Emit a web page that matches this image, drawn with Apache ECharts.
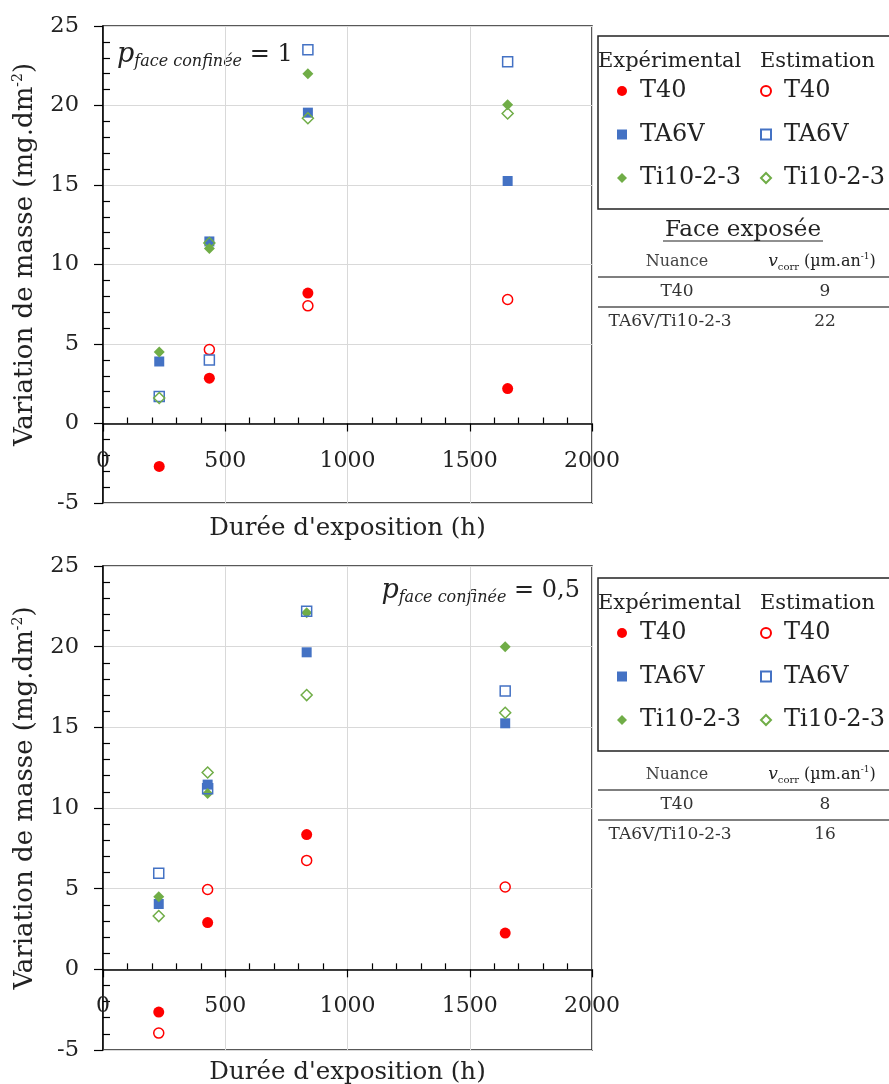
<!DOCTYPE html>
<html><head><meta charset="utf-8">
<script src="https://cdn.jsdelivr.net/npm/echarts@6/dist/echarts.min.js"></script>
<style>html,body{margin:0;padding:0;background:#fff}#c{width:889px;height:1084px}</style>
</head><body><div id="c"></div>
<script>
// ---- data ----
const hoursTop    = [230, 435, 838, 1655];
const hoursBottom = [228, 428, 833, 1645];
// p_face confinée = 1
const t40ExpTop  = [-2.7, 2.85, 8.2, 2.2];
const t40EstTop  = [null, 4.65, 7.4, 7.8];
const ta6vExpTop = [3.9, 11.45, 19.55, 15.25];
const ta6vEstTop = [1.7, 4.0, 23.5, 22.75];
const tiExpTop   = [4.5, 11.0, 22.0, 20.05];
const tiEstTop   = [1.6, 11.35, 19.2, 19.5];
// p_face confinée = 0,5
const t40ExpBot  = [-2.65, 2.9, 8.35, 2.25];
const t40EstBot  = [-3.95, 4.95, 6.75, 5.1];
const ta6vExpBot = [4.05, 11.45, 19.65, 15.25];
const ta6vEstBot = [5.95, 11.2, 22.2, 17.25];
const tiExpBot   = [4.5, 10.9, 22.1, 20.0];
const tiEstBot   = [3.3, 12.2, 17.0, 15.9];
const nuances    = ['T40', 'TA6V', 'Ti10-2-3'];
const tableRows  = ['T40', 'TA6V/Ti10-2-3'];
const vcorrTop   = [9, 22];
const vcorrBot   = [8, 16];

const FF = 'DejaVu Serif';
const RED = '#ff0000', BLUE = '#4472c4', GREEN = '#70ad47';
const EST = ' (est.)';

function pts(xs, ys) { return xs.map((x, i) => ys[i] == null ? null : [x, ys[i]]).filter(Boolean); }

function seriesFor(g, xs, d) {
  const mk = (name, data, symbol, size, color, hollow) => ({
    type: 'scatter', name, xAxisIndex: g, yAxisIndex: g, data: pts(xs, data),
    symbol, symbolSize: size,
    itemStyle: hollow ? { color: 'rgba(255,255,255,0)', borderColor: color, borderWidth: 1.5, opacity: 1 }
                      : { color, opacity: 1 },
    emphasis: { disabled: true }
  });
  return [
    mk('T40', d[0], 'circle', 11, RED, false),
    mk('TA6V', d[2], 'rect', 10, BLUE, false),
    mk('Ti10-2-3', d[4], 'diamond', 11, GREEN, false),
    mk('T40' + EST, d[1], 'circle', 10, RED, true),
    mk('TA6V' + EST, d[3], 'rect', 10, BLUE, true),
    mk('Ti10-2-3' + EST, d[5], 'diamond', 11, GREEN, true)
  ];
}

const grids = [
  { left: 103, top: 26, width: 489, height: 477 },
  { left: 103, top: 566, width: 489, height: 484 }
];

function xAx(g, labelMargin, nameGap) {
  return {
    gridIndex: g, type: 'value', min: 0, max: 2000, interval: 500,
    axisLine: { onZero: true, lineStyle: { color: '#000', width: 1.5 } },
    axisTick: { show: true, length: 8, inside: false, lineStyle: { color: '#000', width: 1.2 } },
    minorTick: { show: true, splitNumber: 5, length: -6, lineStyle: { color: '#000', width: 1.2 } },
    axisLabel: { fontFamily: FF, fontSize: 22, color: '#222', margin: labelMargin, formatter: v => String(v) },
    splitLine: { show: true, lineStyle: { color: '#d9d9d9', width: 1 } },
    name: "Durée d'exposition (h)", nameLocation: 'middle', nameGap,
    nameTextStyle: { fontFamily: FF, fontSize: 24.5, color: '#222' }
  };
}
function yAx(g) {
  return {
    gridIndex: g, type: 'value', min: -5, max: 25, interval: 5,
    axisLine: { show: true, onZero: false, lineStyle: { color: '#000', width: 1.5 } },
    axisTick: { show: true, length: 9, inside: false, lineStyle: { color: '#000', width: 1.2 } },
    minorTick: { show: true, splitNumber: 5, length: -7, lineStyle: { color: '#000', width: 1.2 } },
    axisLabel: { fontFamily: FF, fontSize: 22.5, color: '#222', margin: 24, formatter: v => String(v) },
    splitLine: { show: true, lineStyle: { color: '#d9d9d9', width: 1 } },
    name: 'Variation de masse (mg.dm{sup|-2})', nameLocation: 'middle', nameGap: 64,
    nameTextStyle: { fontFamily: FF, fontSize: 26, color: '#222', padding: [0, 0, 0, 20],
      rich: { sup: { fontFamily: FF, fontSize: 14, color: '#222', verticalAlign: 'top', lineHeight: 28 } } }
  };
}

function legendCol(left, top, est) {
  return {
    orient: 'vertical', left, top, padding: 0, itemWidth: 10, itemHeight: 10, itemGap: 13.5,
    selectedMode: false,
    data: nuances.map(n => est ? n + EST : n),
    formatter: n => n.replace(EST, ''),
    textStyle: { fontFamily: FF, fontSize: 24, color: '#222', lineHeight: 30, padding: [0, 0, 0, 8] }
  };
}

function T(x, y, text, size, align, extra) {
  return { type: 'text', x, y, silent: true,
    style: Object.assign({ text, fill: '#222', font: size + 'px "' + FF + '"',
      align: align || 'left', verticalAlign: 'middle', textAlign: align || 'left', textVerticalAlign: 'middle' }, extra || {}) };
}
function L(x1, y1, x2, y2, w, c) {
  return { type: 'line', silent: true, shape: { x1, y1, x2, y2 }, style: { stroke: c || '#000', lineWidth: w || 1.5 } };
}

function legendBlock(top) {
  return [
    { type: 'rect', silent: true, shape: { x: 598, y: top, width: 320, height: 173 },
      style: { fill: 'none', stroke: '#222', lineWidth: 1.5 } },
    T(598, top + 26, 'Expérimental', 21),
    T(760, top + 26, 'Estimation', 21)
  ];
}

const richP = {
  p: { fontFamily: FF, fontStyle: 'italic', fontSize: 27, color: '#222', lineHeight: 30 },
  s: { fontFamily: FF, fontStyle: 'italic', fontSize: 16, color: '#222', verticalAlign: 'bottom', lineHeight: 30 },
  e: { fontFamily: FF, fontSize: 24, color: '#222', lineHeight: 30 }
};
const vRich = {
  v: { fontFamily: FF, fontStyle: 'italic', fontSize: 17, color: '#444', lineHeight: 20 },
  c: { fontFamily: FF, fontSize: 10, color: '#444', verticalAlign: 'bottom', lineHeight: 20 },
  n: { fontFamily: FF, fontSize: 16, color: '#444', lineHeight: 20 },
  u: { fontFamily: FF, fontSize: 9, color: '#444', verticalAlign: 'top', lineHeight: 20 }
};

function table(yHead, vals) {
  return [
    T(677, yHead, 'Nuance', 16, 'center', { fill: '#444' }),
    T(822, yHead, '{v|v}{c|corr}{n| (µm.an}{u|-1}{n|)}', 16, 'center', { rich: vRich }),
    L(598, yHead + 15, 889, yHead + 15, 1.5, '#555'),
    T(677, yHead + 30, tableRows[0], 17, 'center', { fill: '#333' }),
    T(825, yHead + 30, String(vals[0]), 17, 'center', { fill: '#333' }),
    L(598, yHead + 45, 889, yHead + 45, 1.5, '#555'),
    T(670, yHead + 60, tableRows[1], 17, 'center', { fill: '#333' }),
    T(825, yHead + 60, String(vals[1]), 17, 'center', { fill: '#333' })
  ];
}

const graphics = [].concat(
  legendBlock(36),
  legendBlock(578),
  [
    T(743, 230, 'Face exposée', 23, 'center'),
    L(663, 241, 823, 241, 1.2, '#222'),
    T(117, 55, '{p|p}{s|face confinée}{e| = 1}', 23, 'left', { rich: richP }),
    T(580, 591, '{p|p}{s|face confinée}{e| = 0,5}', 23, 'right', { rich: richP })
  ],
  table(262, vcorrTop),
  table(775, vcorrBot)
);

const chart = echarts.init(document.getElementById('c'), null, { renderer: 'canvas' });
chart.setOption({
  backgroundColor: '#fff',
  animation: false,
  grid: grids.map(g => Object.assign({ show: true, borderColor: '#222', borderWidth: 1.5,
    containLabel: false, outerBoundsMode: 'none' }, g)),
  xAxis: [xAx(0, -53, 13), xAx(1, -55, 10)],
  yAxis: [yAx(0), yAx(1)],
  legend: [
    legendCol(617, 76, false), legendCol(760, 76, true),
    legendCol(617, 618, false), legendCol(760, 618, true)
  ],
  series: [].concat(
    seriesFor(0, hoursTop, [t40ExpTop, t40EstTop, ta6vExpTop, ta6vEstTop, tiExpTop, tiEstTop]),
    seriesFor(1, hoursBottom, [t40ExpBot, t40EstBot, ta6vExpBot, ta6vEstBot, tiExpBot, tiEstBot])
  ),
  graphic: graphics
});
</script>
</body></html>
